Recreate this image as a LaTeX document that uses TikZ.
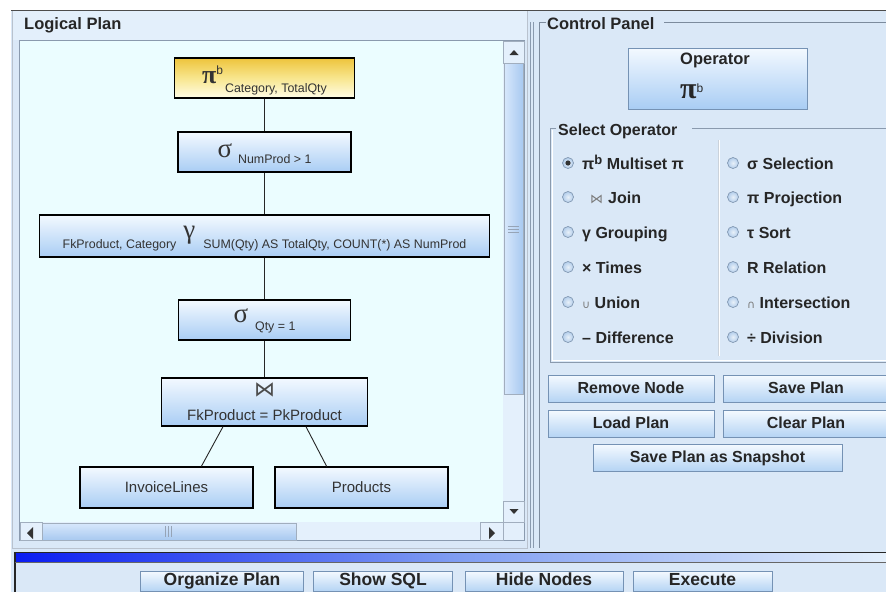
\documentclass[tikz,border=0pt]{standalone}
\usepackage{fontspec}
\setmainfont{Liberation Sans}
\newfontfamily\serifgr{Liberation Serif}
\newfontfamily\symfont{DejaVu Sans}
\usetikzlibrary{calc}
\newcommand{\fsz}[1]{\fontsize{#1}{#1}\selectfont}

\definecolor{bgblue}{HTML}{DAE8F7}
\definecolor{bandblue}{HTML}{E3EFFB}
\definecolor{canvas}{HTML}{EBFDFF}
\definecolor{nodetop}{HTML}{F3F9FF}
\definecolor{nodebot}{HTML}{A9CDF4}
\definecolor{goldtop}{HTML}{EEC43C}
\definecolor{goldmid}{HTML}{F8E68E}
\definecolor{goldbot}{HTML}{FFFDE8}
\definecolor{btntop}{HTML}{F5FAFF}
\definecolor{btnbot}{HTML}{B5D4F4}
\definecolor{btnedge}{HTML}{7592B4}
\definecolor{frame}{HTML}{8A9AAE}
\definecolor{uitext}{HTML}{262626}
\definecolor{barblue}{HTML}{0A1CF2}
\definecolor{barmid}{HTML}{7E9CF2}
\definecolor{radioedge}{HTML}{8298B2}
\definecolor{radiofill}{HTML}{B2CDEB}
\definecolor{scrollbg}{HTML}{E4F0FC}
\definecolor{thumbl}{HTML}{D8E8FC}
\definecolor{thumbr}{HTML}{A8C9F0}
\definecolor{symgrey}{HTML}{7A7A7A}

\tikzset{
  plannode/.style={draw=black, line width=1.1pt, top color=nodetop, bottom color=nodebot,
    inner sep=0pt, text=black!80, font=\fsz{15}},
  rootnode/.style={plannode, top color=goldtop, bottom color=goldbot, middle color=goldmid},
  link/.style={draw=black!85, line width=0.9pt},
  uibtn/.style={draw=btnedge, line width=0.8pt, top color=btntop, bottom color=btnbot,
    inner sep=0pt, text=uitext, font=\bfseries\fsz{16}, text height=11.5pt, text depth=2.5pt},
  lowbtn/.style={uibtn, minimum height=20pt, font=\bfseries\fsz{17.5}, text height=12.5pt, text depth=3pt},
  radio/.style={circle, draw=radioedge, line width=0.7pt, inner color=white!70!radiofill,
    outer color=radiofill, minimum size=11pt, inner sep=0pt},
  optlabel/.style={anchor=base west, inner sep=0pt, text=uitext, font=\bfseries\fsz{16}},
  paneltitle/.style={anchor=base west, inner sep=0pt, text=uitext, font=\bfseries\fsz{16.5}},
  framed/.style={draw=frame, line width=0.9pt},
  scrollbtn/.style={draw=frame!80, fill=scrollbg, line width=0.6pt},
  arrowtri/.style={fill=black!80},
}

\begin{document}
\begin{tikzpicture}[x=1pt,y=-1pt]
\useasboundingbox (0,0) rectangle (886,592);
\fill[white] (0,0) rectangle (886,592);
\fill[bgblue] (11,10) rectangle (886,592);
\draw[black!70, line width=1pt] (11,10.5) -- (886,10.5);

% ---------- Logical plan panel ----------
\fill[bandblue] (12,11) rectangle (527,40);
\node[paneltitle] (lptitle) at (24,29) {Logical Plan};
\fill[canvas] (20,41) rectangle (503,522);
\draw[framed] (19.5,40.5) rectangle (524.5,540.5);
\draw[frame!60, line width=0.8pt] (12,11) -- (12,548) -- (527,548) -- (527,11);

% vertical scrollbar
\fill[scrollbg] (503,41) rectangle (524,522);
\draw[scrollbtn] (503,41) rectangle (524,63);
\fill[arrowtri] (509.5,55) -- (518.5,55) -- (514,50) -- cycle;
\shade[left color=thumbl, right color=thumbr] (504,63) rectangle (523,394);
\draw[frame!80, line width=0.6pt] (504,63) rectangle (523,394);
\foreach \yy in {226,229,232} \draw[frame!90, line width=0.7pt] (508,\yy) -- (519,\yy);
\draw[scrollbtn] (503,501) rectangle (524,522);
\fill[arrowtri] (509.5,509) -- (518.5,509) -- (514,514) -- cycle;

% horizontal scrollbar
\fill[scrollbg] (20,522) rectangle (503,540);
\draw[scrollbtn] (20,522) rectangle (42,540);
\fill[arrowtri] (33,527) -- (33,539) -- (27,533) -- cycle;
\shade[top color=thumbl, bottom color=thumbr] (42,523) rectangle (296,540);
\draw[frame!80, line width=0.6pt] (42,523) rectangle (296,540);
\foreach \xx in {165,168,171} \draw[frame!90, line width=0.7pt] (\xx,526) -- (\xx,537);
\draw[scrollbtn] (480,522) rectangle (503,540);
\fill[arrowtri] (489,527) -- (489,539) -- (495,533) -- cycle;
\fill[bandblue] (503.5,522.5) rectangle (524,540);

% ---------- plan tree ----------
\node[rootnode, minimum width=180pt, minimum height=40pt, text height=14pt, text depth=4pt]
  (proj) at (264.5,78) {{\serifgr\bfseries\fsz{26}π}\raisebox{9pt}{\fsz{12}b}\hspace{2pt}\raisebox{-9pt}{\fsz{12.4}Category, TotalQty}};
\node[plannode, minimum width=173pt, minimum height=40pt, text height=14pt, text depth=4pt]
  (sel1) at (264.5,152) {{\serifgr\fsz{27}σ}\hspace{6pt}\raisebox{-6pt}{\fsz{12.4}NumProd > 1}};
\node[plannode, minimum width=450pt, minimum height=42pt, text height=10pt, text depth=6pt]
  (grp) at (264.5,236) {\raisebox{-10pt}{\fsz{12.4}FkProduct, Category}\hspace{7pt}{\serifgr\fsz{27}γ}\hspace{8pt}\raisebox{-10pt}{\fsz{12.4}SUM(Qty) AS TotalQty, COUNT(*) AS NumProd}};
\node[plannode, minimum width=172pt, minimum height=40pt, text height=10pt, text depth=6pt]
  (sel2) at (264.5,320) {{\serifgr\fsz{27}σ}\hspace{7pt}\raisebox{-8pt}{\fsz{12.4}Qty = 1}};
\node[plannode, minimum width=206pt, minimum height=48pt, align=center, font=\fontsize{15}{24}\selectfont]
  (join) at (264.5,402) {{\symfont\fsz{21}\color{black!70}⋈}\\FkProduct = PkProduct};
\node[plannode, minimum width=173pt, minimum height=41pt] (inv) at (166.5,487.5) {InvoiceLines};
\node[plannode, minimum width=173pt, minimum height=41pt] (prod) at (361.5,487.5) {Products};

\draw[link] (proj) -- (sel1);
\draw[link] (sel1) -- (grp);
\draw[link] (grp) -- (sel2);
\draw[link] (sel2) -- (join);
\draw[link] ($(join.south west)!0.3!(join.south east)$) -- ($(inv.north west)!0.7!(inv.north east)$);
\draw[link] ($(join.south west)!0.7!(join.south east)$) -- ($(prod.north west)!0.3!(prod.north east)$);

% ---------- split pane divider ----------
\draw[frame, line width=1pt] (530,22) -- (530,548);
\draw[frame, line width=1pt] (533.5,22) -- (533.5,548);

% ---------- control panel ----------
\draw[frame!90!black, line width=1pt] (546,22.5) -- (539.5,22.5) -- (539.5,548);
\draw[frame!90!black, line width=1pt] (664,22.5) -- (886,22.5);
\node[paneltitle] (cptitle) at (547,29) {Control Panel};

\node[draw=btnedge, line width=0.8pt, top color=nodetop, bottom color=nodebot,
  minimum width=179pt, minimum height=61pt] (opbox) at (717.5,78.5) {};
\node[anchor=base, inner sep=0pt, text=uitext, font=\bfseries\fsz{16.5}] (optitle) at (715,64) {Operator};
\node[anchor=base west, inner sep=0pt, text=black!85] (opsym) at (680,98) {{\serifgr\bfseries\fsz{30}π}\raisebox{6pt}{\fsz{12}b}};

% select operator group
\draw[frame, line width=0.9pt] (556,128.5) -- (550.5,128.5) -- (550.5,362) -- (886,362);
\draw[white, line width=0.8pt] (552,130) -- (552,360.5) -- (886,360.5);
\draw[frame, line width=0.9pt] (692,128.5) -- (886,128.5);
\node[paneltitle, font=\bfseries\fsz{16}] (sotitle) at (558,135) {Select Operator};
\draw[frame!45, line width=0.8pt] (718,140) -- (718,356);
\draw[white, line width=0.8pt] (719,140) -- (719,356);

% radio buttons, left column
\foreach \r/\yy in {r1/163,r2/197,r3/232,r4/267,r5/302,r6/337} \node[radio] (\r) at (568,\yy) {};
\fill[black!80] (r1) circle (2.6pt);
\node[optlabel] (l1) at (582,169) {π\raisebox{5pt}{\fsz{13}b} Multiset π};
\node[optlabel] (l2) at (582,203) {\hspace{8pt}{\mdseries\symfont\fsz{13}\color{symgrey}⋈}\hspace{5pt}Join};
\node[optlabel] (l3) at (582,238) {γ Grouping};
\node[optlabel] (l4) at (582,273) {× Times};
\node[optlabel] (l5) at (582,308) {{\mdseries\symfont\fsz{11}\color{symgrey}∪} Union};
\node[optlabel] (l6) at (582,343) {– Difference};

% radio buttons, right column
\foreach \r/\yy in {s1/163,s2/197,s3/232,s4/267,s5/302,s6/337} \node[radio] (\r) at (733,\yy) {};
\node[optlabel] (m1) at (747,169) {σ Selection};
\node[optlabel] (m2) at (747,203) {π Projection};
\node[optlabel] (m3) at (747,238) {τ Sort};
\node[optlabel] (m4) at (747,273) {R Relation};
\node[optlabel] (m5) at (747,308) {{\mdseries\symfont\fsz{11}\color{symgrey}∩} Intersection};
\node[optlabel] (m6) at (747,343) {÷ Division};

% action buttons
\node[uibtn, minimum width=166pt, minimum height=27pt] (remove) at (631,388.5) {Remove Node};
\node[uibtn, minimum width=166pt, minimum height=27pt] (save) at (806,388.5) {Save Plan};
\node[uibtn, minimum width=166pt, minimum height=27pt] (load) at (631,423.5) {Load Plan};
\node[uibtn, minimum width=166pt, minimum height=27pt] (clear) at (806,423.5) {Clear Plan};
\node[uibtn, minimum width=249pt, minimum height=27pt] (snap) at (717.5,457.5) {Save Plan as Snapshot};

% ---------- status bar and bottom toolbar ----------
\shade[left color=barblue, right color=bandblue, middle color=barmid] (15,553) rectangle (886,562);
\draw[black!85, line width=1.4pt] (15,592) -- (15,552.5) -- (886,552.5);
\draw[black!60, line width=0.8pt] (15,562.5) -- (886,562.5);

\node[lowbtn, minimum width=163pt] (organize) at (222,581) {Organize Plan};
\node[lowbtn, minimum width=139pt] (showsql) at (383,581) {Show SQL};
\node[lowbtn, minimum width=158pt] (hide) at (544,581) {Hide Nodes};
\node[lowbtn, minimum width=139pt] (execute) at (702.5,581) {Execute};
\end{tikzpicture}
\end{document}
